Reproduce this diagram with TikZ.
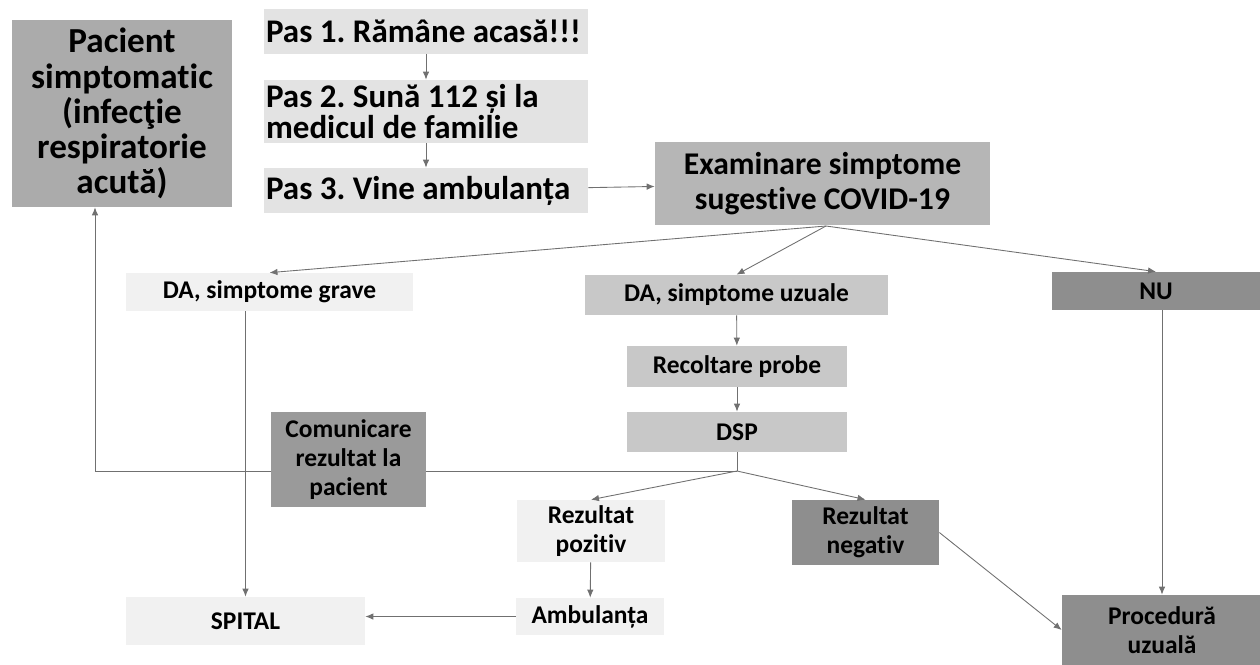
\documentclass[tikz,border=0pt]{standalone}
\usepackage{fontspec}
\setmainfont{Carlito}[Ligatures={TeX,NoCommon}]
\usepackage{tikz}
\usetikzlibrary{arrows.meta}
\definecolor{greymid}{HTML}{ABABAB}
\definecolor{greyexam}{HTML}{B6B6B6}
\definecolor{greylight}{HTML}{E3E3E3}
\definecolor{greypale}{HTML}{F1F1F1}
\definecolor{greydot}{HTML}{C8C8C8}
\definecolor{greydark}{HTML}{8E8E8E}
\definecolor{greycom}{HTML}{9A9A9A}
\definecolor{greyline}{HTML}{707070}
\newcommand{\hugetxt}{\fontsize{20}{20}\selectfont\bfseries}
\newcommand{\bigtxt}{\fontsize{18.8}{17.8}\selectfont\bfseries\frenchspacing}
\newcommand{\examtxt}{\fontsize{18}{19.8}\selectfont\bfseries}
\newcommand{\smalltxt}{\fontsize{14.5}{16.5}\selectfont\bfseries}
\tikzstyle{box}=[rectangle, inner sep=0pt, align=center, font=\smalltxt]
\tikzstyle{boxpas}=[box, fill=greylight, minimum width=6.48cm, text width=6.4cm, align=flush left, font=\bigtxt]
\tikzstyle{boxpale}=[box, fill=greypale]
\tikzstyle{boxdot}=[box, fill=greydot]
\tikzstyle{boxdark}=[box, fill=greydark]
\tikzstyle{arrow}=[color=greyline, line width=0.5pt, -{Latex[length=1.6mm,width=1.3mm]}]
\tikzstyle{line}=[color=greyline, line width=0.5pt, -]

\begin{document}
\begin{tikzpicture}[x=0.02cm, y=-0.02cm]
		   \useasboundingbox (0,0) rectangle (1260,664);
		   \begin{scope}
			   \node (pacient) at (122, 113.5) [box, fill=greymid, minimum width=4.4cm, minimum height=3.74cm, font=\hugetxt] {Pacient\\simptomatic\\(infecţie\\respiratorie\\acută)};
			   \node (pas1) at (426, 31) [boxpas, minimum height=0.9cm] {Pas 1. Rămâne acasă!!!};
			   \node (pas2) at (426, 111.5) [boxpas, minimum height=1.26cm] {Pas 2. Sună 112 și la\\medicul de familie};
			   \node (pas3) at (426, 190.5) [boxpas, minimum height=0.9cm] {Pas 3. Vine ambulanța};
			   \node (exam) at (822.5, 183.5) [box, fill=greyexam, minimum width=6.7cm, minimum height=1.66cm, font=\examtxt] {Examinare simptome\\sugestive COVID-19};

			   \node (dagrave) at (269.5, 292) [boxpale, minimum width=5.74cm, minimum height=0.76cm] {DA, simptome grave};
			   \node (dauzuale) at (736.5, 295) [boxdot, minimum width=6.06cm, minimum height=0.8cm] {DA, simptome uzuale};
			   \node (nu) at (1156, 291) [boxdark, minimum width=4.16cm, minimum height=0.76cm] {NU};
			   \node (recolt) at (737, 366.5) [boxdot, minimum width=4.4cm, minimum height=0.82cm] {Recoltare probe};
			   \node (dsp) at (737, 432) [boxdot, minimum width=4.4cm, minimum height=0.8cm] {DSP};

			   \node (comm) at (348.5, 459.5) [box, fill=greycom, minimum width=3.1cm, minimum height=1.9cm] {Comunicare\\rezultat la\\pacient};
			   \node (rezpoz) at (591, 531) [boxpale, minimum width=2.96cm, minimum height=1.24cm] {Rezultat\\pozitiv};
			   \node (rezneg) at (865.5, 532.5) [boxdark, minimum width=2.94cm, minimum height=1.3cm] {Rezultat\\negativ};
			   \node (ambul) at (590, 616.5) [boxpale, minimum width=2.96cm, minimum height=0.74cm] {Ambulanța};
			   \node (spital) at (245.5, 621) [boxpale, minimum width=4.78cm, minimum height=0.96cm] {SPITAL};
			   \node (proced) at (1162, 630) [boxdark, minimum width=4.0cm, minimum height=1.4cm] {Procedură\\uzuală};

			   \coordinate (es) at (826, 226);
			   \coordinate (ds) at (737, 471);
			   \coordinate (corner) at (95, 471);
		   \end{scope}
		   \begin{scope}
			   \path [arrow] (pas1) edge (pas2);
			   \path [arrow] (pas2) edge (pas3);
			   \path [arrow] (pas3) edge (exam);

			   \path [arrow] (es) edge (dagrave.north);
			   \path [arrow] (es) edge (dauzuale.north);
			   \path [arrow] (es) edge (nu.north);

			   \path [arrow] (dauzuale) edge (recolt);
			   \path [arrow] (recolt) edge (dsp);
			   \path [line] (dsp) edge (ds);
			   \path [arrow] (ds) edge (rezpoz.north);
			   \path [arrow] (ds) edge (rezneg.north);

			   \path [line] (ds) edge (comm.east |- ds);
			   \path [line] (comm.west |- ds) edge (corner);
			   \path [arrow] (corner) edge (corner |- pacient.south);

			   \path [arrow] (spital.north |- dagrave.south) edge (spital.north);
			   \path [arrow] (rezpoz) edge (ambul);
			   \path [arrow] (ambul.west) edge (ambul.west -| spital.east);
			   \path [arrow] (proced.north |- nu.south) edge (proced.north);
			   \path [arrow] (rezneg.east) edge (proced.west);
		   \end{scope}
	   \end{tikzpicture}
\end{document}
